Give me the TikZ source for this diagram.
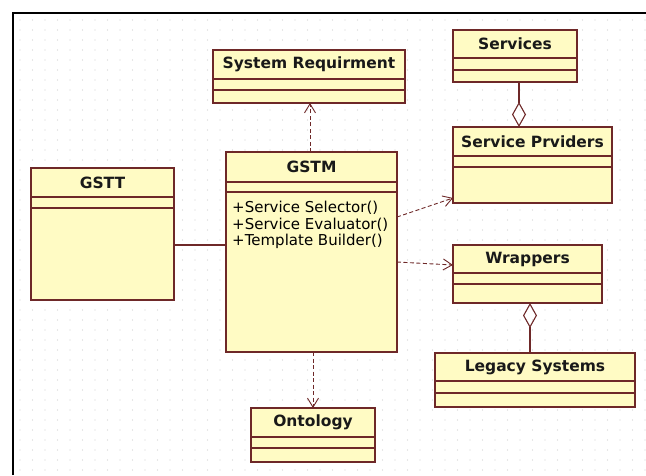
\documentclass[tikz,border=0pt]{standalone}
\usepackage{fontspec}
\setmainfont{DejaVu Sans}
\usetikzlibrary{arrows.meta,calc}

\definecolor{clsfill}{RGB}{255,251,196}
\definecolor{clsline}{RGB}{110,40,40}
\definecolor{griddot}{RGB}{208,208,208}

\tikzset{
  umlcls/.style={draw=clsline, fill=clsfill, line width=1.1pt, inner sep=0pt, outer sep=0pt, rectangle},
  umlsep/.style={draw=clsline, line width=1.1pt},
  umltitle/.style={font=\bfseries\fontsize{15.5}{18}\selectfont, inner sep=0pt, text=black!90},
  umlop/.style={font=\fontsize{15}{16}\selectfont, inner sep=0pt, anchor=base west},
  dep/.style={draw=clsline, line width=0.9pt, dash pattern=on 4pt off 2.5pt,
              -{Straight Barb[length=9pt,width=11pt,line width=0.9pt]}},
  assoc/.style={draw=clsline, line width=1.1pt},
  agg/.style={draw=clsline, line width=1.1pt, -{Diamond[open,length=25pt,width=14pt,line width=1.1pt]}},
}

% class box: name, left, top, right, bottom, first separator, second separator, title
\newcommand\umlbox[8]{%
  \node[umlcls, anchor=north west, minimum width={#4-#2}, minimum height={#5-#3}] (#1) at (#2,#3) {};
  \draw[umlsep] (#2,#6) -- (#4,#6);
  \draw[umlsep] (#2,#7) -- (#4,#7);
  \node[umltitle] (#1-title) at ({(#2+#4)/2},{(#3+#6)/2}) {#8};
}

\begin{document}
\begin{tikzpicture}[x=1pt,y=-1pt]
\useasboundingbox (0,0) rectangle (646,475);
\fill[white] (0,0) rectangle (646,475);

% dotted drawing grid
\foreach \gx in {20,32.5,...,646}
  \foreach \gy in {20,30,...,475}
    \fill[griddot] (\gx,\gy) circle (0.6pt);

% page frame
\draw[black, line width=2pt] (13,475) -- (13,13) -- (646,13);

% classes
\umlbox{sysreq}{213}{50}{405}{103}{79}{90}{System Requirment}
\umlbox{gstm}{226}{152}{397}{352}{182}{192}{GSTM}
\umlbox{gstt}{31}{168}{174}{300}{197}{208}{GSTT}
\umlbox{svc}{453}{30}{577}{82}{58}{70}{Services}
\umlbox{sprov}{453}{127}{612}{203}{156}{167}{Service Prviders}
\umlbox{wrap}{453}{245}{602}{303}{273}{284}{Wrappers}
\umlbox{legacy}{435}{353}{635}{407}{381}{393}{Legacy Systems}
\umlbox{onto}{251}{408}{375}{462}{437}{448}{Ontology}

% operations of GSTM
\node[umlop] (op1) at (232,212.5) {+Service Selector()};
\node[umlop] (op2) at (232,229) {+Service Evaluator()};
\node[umlop] (op3) at (232,245.5) {+Template Builder()};

% dependencies
\draw[dep] ([xshift=-1.5pt]gstm.north) -- ([xshift=-1.5pt]gstm.north |- sysreq.south);
\draw[dep] ([xshift=1.5pt]gstm.south) -- ([xshift=1.5pt]gstm.south |- onto.north);
\draw[dep] ([yshift=-65pt]gstm.north east) -- ([yshift=5pt]sprov.south west);
\draw[dep] ([yshift=-110pt]gstm.north east) -- ([yshift=-20pt]wrap.north west);

% association
\draw[assoc] ([yshift=-77pt]gstt.north east) -- ([yshift=-77pt]gstt.north east -| gstm.west);

% aggregations
\draw[agg] ([xshift=4pt]svc.south) -- ([xshift=4pt]svc.south |- sprov.north);
\draw[agg] ([xshift=-5pt]legacy.north) -- ([xshift=-5pt]legacy.north |- wrap.south);
\end{tikzpicture}
\end{document}
